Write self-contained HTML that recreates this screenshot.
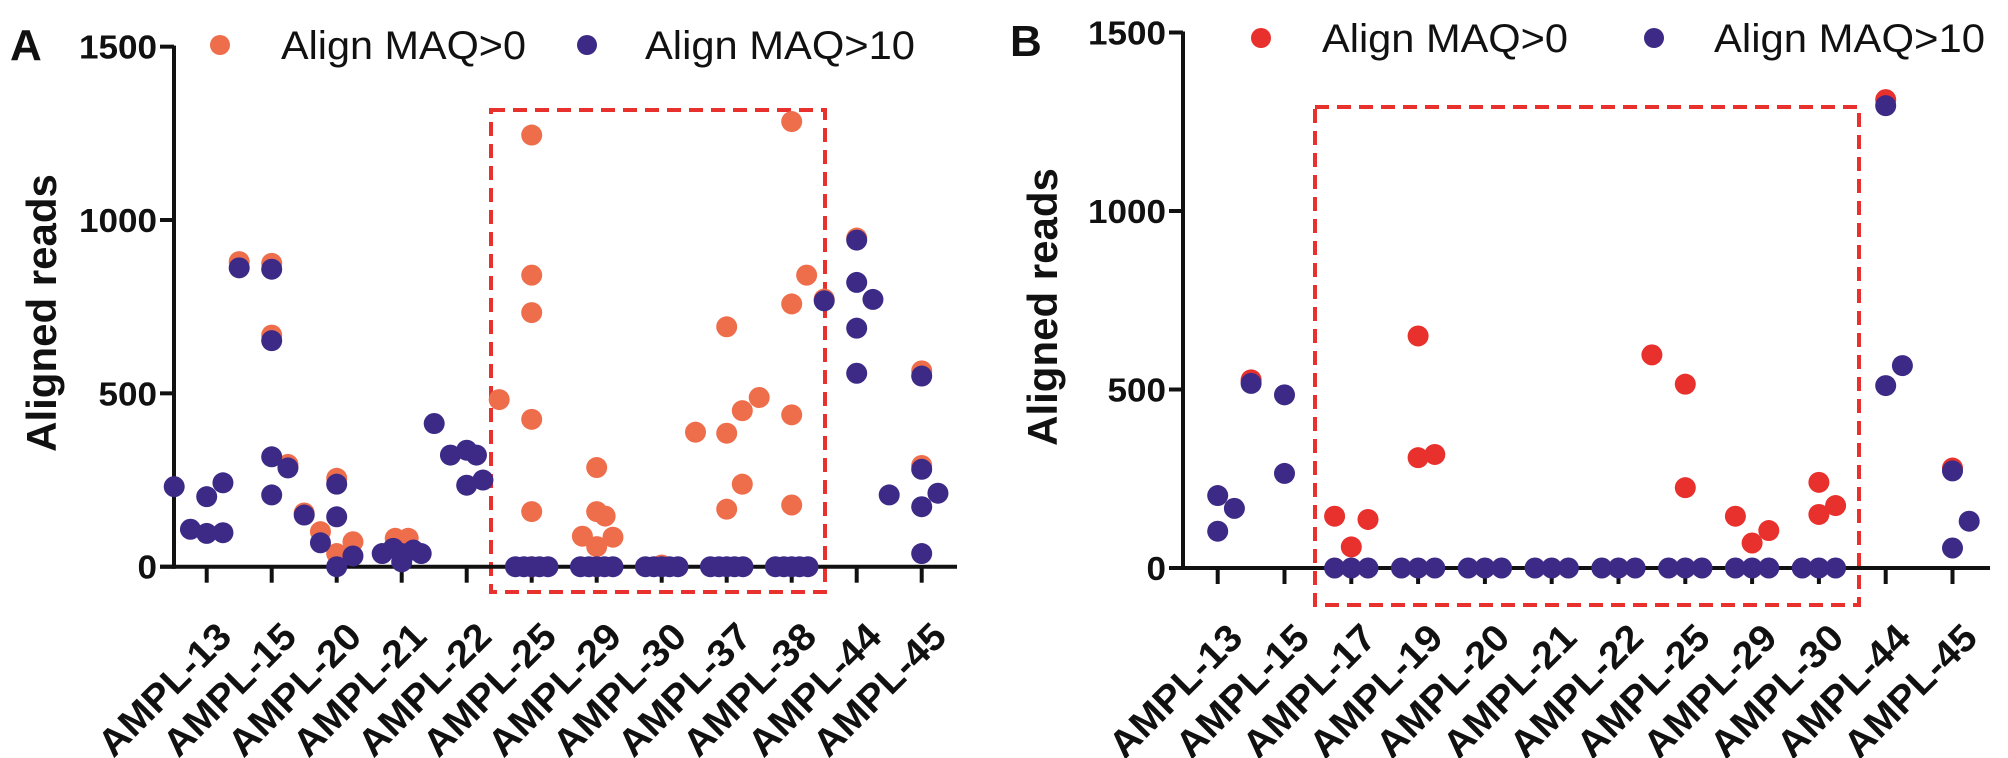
<!DOCTYPE html>
<html><head><meta charset="utf-8"><style>
html,body{margin:0;padding:0;background:#fff}
svg{display:block}
text{font-family:"Liberation Sans",Arial,sans-serif;fill:#111}
</style></head><body>
<svg id="fig" xmlns="http://www.w3.org/2000/svg" width="2008" height="758" viewBox="0 0 2008 758"></svg>
<script>
// ---------- data ----------
const catsA = ["AMPL-13","AMPL-15","AMPL-20","AMPL-21","AMPL-22","AMPL-25","AMPL-29","AMPL-30","AMPL-37","AMPL-38","AMPL-44","AMPL-45"];
const catsB = ["AMPL-13","AMPL-15","AMPL-17","AMPL-19","AMPL-20","AMPL-21","AMPL-22","AMPL-25","AMPL-29","AMPL-30","AMPL-44","AMPL-45"];
const yTicks = [0,500,1000,1500];
// each point: [category index, jitter (fraction of category step), value]
const aMaq0 = [
 [1,-0.5,880],[1,0,875],[1,0,668],[1,0.25,295],
 [2,-0.5,155],[2,-0.25,101],[2,0,255],[2,0.25,72],[2,0,38],
 [3,-0.1,82],[3,0.1,82],
 [5,-0.5,482],[5,0,1245],[5,0,841],[5,0,733],[5,0,425],[5,0,159],[5,0,0],
 [6,0,286],[6,0,159],[6,0.13,146],[6,-0.22,88],[6,0.25,85],[6,0,58],[6,0,0],
 [7,0,5],
 [8,-0.48,388],[8,0,385],[8,0.24,450],[8,0.5,488],[8,0.24,238],[8,0,166],[8,0,692],
 [9,0,1284],[9,0.23,841],[9,0,758],[9,0,438],[9,0,178],
 [10,-0.5,772],[10,0,948],
 [11,0,565],[11,0,292]
];
const aMaq10 = [
 [0,-0.5,231],[0,0,202],[0,0.25,242],[0,-0.25,108],[0,0,96],[0,0.25,98],
 [1,-0.5,862],[1,0,858],[1,0,652],[1,0,317],[1,0.25,285],[1,0,207],
 [2,-0.5,149],[2,-0.25,69],[2,0,238],[2,0,144],[2,0,0],[2,0.25,31],
 [3,-0.3,38],[3,-0.13,53],[3,0,38],[3,0.18,48],[3,0.3,38],[3,0,14],
 [4,-0.5,413],[4,-0.25,322],[4,0,336],[4,0.15,322],[4,0,235],[4,0.25,250],
 [5,-0.25,0],[5,-0.12,0],[5,0,0],[5,0.12,0],[5,0.25,0],
 [6,-0.25,0],[6,-0.12,0],[6,0,0],[6,0.12,0],[6,0.25,0],
 [7,-0.25,0],[7,-0.12,0],[7,0,0],[7,0.12,0],[7,0.25,0],
 [8,-0.25,0],[8,-0.12,0],[8,0,0],[8,0.12,0],[8,0.25,0],
 [9,-0.25,0],[9,-0.12,0],[9,0,0],[9,0.12,0],[9,0.25,0],
 [10,-0.5,767],[10,0,942],[10,0,820],[10,0.25,771],[10,0,688],[10,0,558],
 [11,-0.5,207],[11,0,550],[11,0,281],[11,0,173],[11,0.25,212],[11,0,38]
];
const bMaq0 = [
 [1,-0.5,527],
 [2,-0.25,145],[2,0,59],[2,0.25,136],
 [3,0,650],[3,0,309],[3,0.25,318],
 [7,-0.5,597],[7,0,515],[7,0,225],
 [8,-0.25,145],[8,0,70],[8,0.25,105],
 [9,0,240],[9,0,150],[9,0.25,175],
 [10,0,1312],[11,0,280]
];
const bMaq10 = [
 [0,0,203],[0,0.25,167],[0,0,103],
 [1,-0.5,517],[1,0,485],[1,0,265],
 [2,-0.25,0],[2,0,0],[2,0.25,0],[3,-0.25,0],[3,0,0],[3,0.25,0],
 [4,-0.25,0],[4,0,0],[4,0.25,0],[5,-0.25,0],[5,0,0],[5,0.25,0],
 [6,-0.25,0],[6,0,0],[6,0.25,0],[7,-0.25,0],[7,0,0],[7,0.25,0],
 [8,-0.25,0],[8,0,0],[8,0.25,0],[9,-0.25,0],[9,0,0],[9,0.25,0],
 [10,0,1295],[10,0,511],[10,0.25,567],
 [11,0,272],[11,0.25,131],[11,0,56]
];

// ---------- drawing ----------
const NS = "http://www.w3.org/2000/svg";
const svg = document.getElementById("fig");
function mk(tag, attrs, parent){
  const e = document.createElementNS(NS, tag);
  for (const k in attrs) e.setAttribute(k, attrs[k]);
  (parent||svg).appendChild(e);
  return e;
}
const PURPLE = "#3c2a86";

function panel(p){
  const g = mk("g", {});
  
  
  const yS = v => p.y0 - v * p.ky;
  const xS = (c, j) => p.x0 + p.step * (c + j);

  const box = mk("rect", {x:p.box[0], y:p.box[1], width:p.box[2]-p.box[0], height:p.box[3]-p.box[1], fill:"none", stroke:"#e8302c", "stroke-width":4, "stroke-dasharray":"14 8"}, g);
  
  

  const ya = mk("line", {x1:p.ax, y1:yS(1500)-1, x2:p.ax, y2:p.y0+2, stroke:"#111", "stroke-width":4}, g);
  
  
  const xa = mk("line", {x1:p.ax-14, y1:p.y0, x2:p.xEnd, y2:p.y0, stroke:"#111", "stroke-width":4}, g);
  
  

  yTicks.forEach(t => {
    const y = yS(t);
    const tk = mk("line", {x1:p.ax-14, y1:y, x2:p.ax, y2:y, stroke:"#111", "stroke-width":4}, g);
    
    
    const tl = mk("text", {x:p.ax-17, y:y+12, "text-anchor":"end", "font-size":33, "font-weight":"bold", textLength:String(t).length*19.5, lengthAdjust:"spacingAndGlyphs"}, g);
    tl.textContent = t;
    
    
  });

  p.cats.forEach((c, i) => {
    const x = xS(i, 0);
    const tk = mk("line", {x1:x, y1:p.y0, x2:x, y2:p.y0+16, stroke:"#111", "stroke-width":4}, g);
    
    
    const ax = x + 27, ay = p.y0 + 72;
    const tl = mk("text", {x:ax, y:ay, "text-anchor":"end", "font-size":38, "font-weight":"bold", textLength:170, lengthAdjust:"spacingAndGlyphs", transform:`rotate(-45 ${ax} ${ay})`}, g);
    tl.textContent = c;
    
    
  });

  const yt = mk("text", {x:p.yTitle[0], y:p.yTitle[1], "text-anchor":"middle", "font-size":42, "font-weight":"bold", transform:`rotate(-90 ${p.yTitle[0]} ${p.yTitle[1]})`}, g);
  yt.textContent = "Aligned reads";
  
  

  const pl = mk("text", {x:p.letter[0], y:p.letter[1], "font-size":44, "font-weight":"bold"}, g);
  pl.textContent = p.id;
  
  

  p.s0.forEach(d => {
    const c = mk("circle", {cx:xS(d[0], d[1]), cy:yS(d[2]), r:10.5, fill:p.c0}, g);
    
    
  });
  p.s10.forEach(d => {
    const c = mk("circle", {cx:xS(d[0], d[1]), cy:yS(d[2]), r:10.5, fill:PURPLE}, g);
    
    
  });

  const l1 = mk("circle", {cx:p.leg[0], cy:p.legY, r:10, fill:p.c0}, g);
  
  
  const t1 = mk("text", {x:p.leg[1], y:p.legY+14, "font-size":40, textLength:p.leg[2], lengthAdjust:"spacingAndGlyphs"}, g);
  t1.textContent = "Align MAQ>0";
  
  
  const l2 = mk("circle", {cx:p.leg[3], cy:p.legY, r:10, fill:PURPLE}, g);
  
  
  const t2 = mk("text", {x:p.leg[4], y:p.legY+14, "font-size":40, textLength:p.leg[5], lengthAdjust:"spacingAndGlyphs"}, g);
  t2.textContent = "Align MAQ>10";
  
  
}

panel({id:"A", cats:catsA, s0:aMaq0, s10:aMaq10, c0:"#ee6e4b",
  ax:174, y0:566.7, ky:0.3467, x0:206.7, step:65, xEnd:957,
  box:[491,110,825,592], yTitle:[56,313], letter:[10,60],
  leg:[220,281,245,587,645,270], legY:45});
panel({id:"B", cats:catsB, s0:bMaq0, s10:bMaq10, c0:"#e8302c",
  ax:1183, y0:568, ky:0.357, x0:1217.7, step:66.8, xEnd:1990,
  box:[1315,107,1859,605], yTitle:[1057,307], letter:[1010,56],
  leg:[1261,1322,246,1654,1714,271], legY:38});
</script>
</body></html>
